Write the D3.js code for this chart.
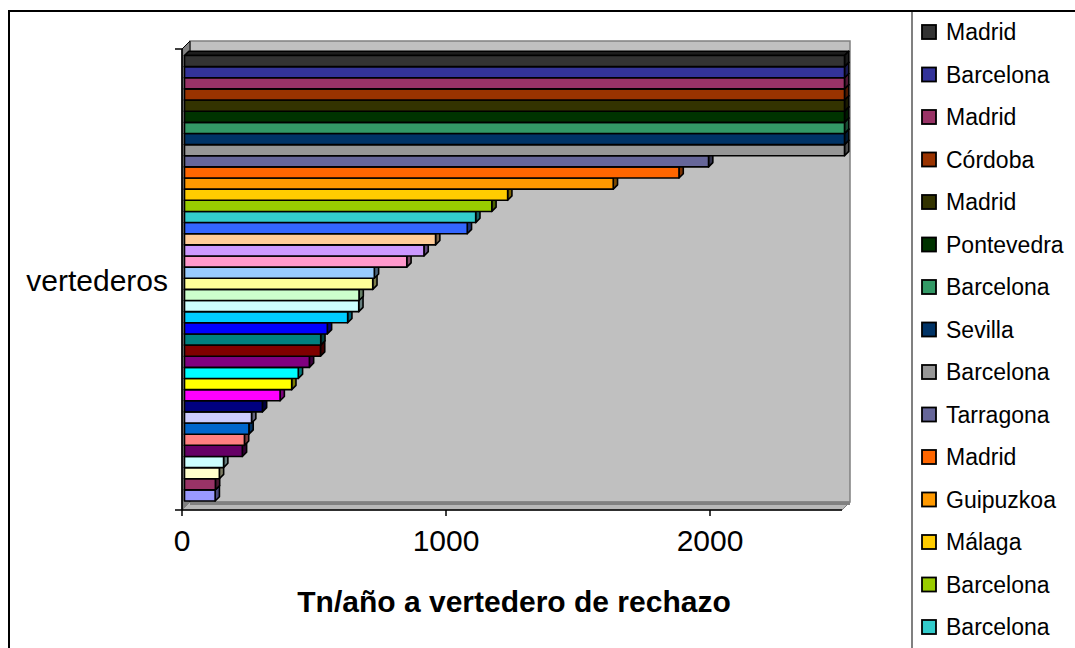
<!DOCTYPE html>
<html>
<head>
<meta charset="utf-8">
<script src="https://cdn.jsdelivr.net/npm/d3@7"></script>
<style>
  body { margin: 0; background: #fff; }
  svg { display: block; font-family: "Liberation Sans", Arial, sans-serif; }
</style>
</head>
<body>
<svg id="chart" width="1075" height="648"></svg>
<script>
// One category, forty series (listed top to bottom as they appear)
const category = "vertederos";
const seriesValues = [
  2500, 2500, 2500, 2500, 2500, 2500, 2500, 2500, 2500,
  1985, 1873, 1624, 1224, 1164, 1103, 1071, 951, 907, 842,
  719, 713, 661, 660, 618, 541, 516, 515, 473, 431, 406, 362,
  295, 254, 244, 227, 219, 148, 132, 117, 116
];
const seriesColors = [
  "#333333", "#333399", "#993366", "#993300", "#333300", "#003300", "#339966", "#003366", "#969696",
  "#666699", "#FF6600", "#FF9900", "#FFCC00", "#99CC00", "#33CCCC", "#3366FF", "#FFCC99", "#CC99FF", "#FF99CC",
  "#99CCFF", "#FFFF99", "#CCFFCC", "#CCFFFF", "#00CCFF", "#0000FF", "#008080", "#800000", "#800080", "#00FFFF", "#FFFF00", "#FF00FF",
  "#000080", "#CCCCFF", "#0066CC", "#FF8080", "#660066", "#CCFFFF", "#FFFFCC", "#993366", "#9999FF"
];
const legendNames = [
  "Madrid", "Barcelona", "Madrid", "Córdoba", "Madrid", "Pontevedra", "Barcelona",
  "Sevilla", "Barcelona", "Tarragona", "Madrid", "Guipuzkoa", "Málaga", "Barcelona", "Barcelona"
];
const valueTicks = [0, 1000, 2000];
const valueMax = 2500;
const axisTitle = "Tn/año a vertedero de rechazo";

const svg = d3.select("#chart");

// Front plane of the 3D box
const plot = { left: 182, right: 842, top: 49, bottom: 510 };
const WALL = 8;      // depth offset of the back wall
const FRONT = 2.5;   // depth offset of the bar front faces
const BACK = 6.8;    // depth offset of the bar back faces

const x = d3.scaleLinear().domain([0, valueMax]).range([plot.left, plot.right]);
const y = d3.scaleBand()
  .domain(d3.range(seriesValues.length))
  .range([58, 503.5])
  .paddingInner(0);

const shift = (px, py, d) => [px + d, py - d];
const poly = pts => "M" + pts.map(p => p.join(",")).join("L") + "Z";

// Outer chart frame
svg.append("rect")
  .attr("x", 9).attr("y", 11).attr("width", 1100).attr("height", 700)
  .attr("fill", "none").attr("stroke", "#000").attr("stroke-width", 2);

// Back wall
svg.append("rect")
  .attr("x", x(0) + WALL).attr("y", plot.top - WALL)
  .attr("width", x(valueMax) - x(0)).attr("height", plot.bottom - plot.top)
  .attr("fill", "#C0C0C0").attr("stroke", "#808080").attr("stroke-width", 1.5);

// Left (category) floor
svg.append("path")
  .attr("d", poly([[plot.left, plot.top], shift(plot.left, plot.top, WALL),
                   shift(plot.left, plot.bottom, WALL), [plot.left, plot.bottom]]))
  .attr("fill", "#808080").attr("stroke", "#000").attr("stroke-width", 1);

// Bottom side wall
svg.append("path")
  .attr("d", poly([[plot.left, plot.bottom], [x(valueMax), plot.bottom],
                   shift(x(valueMax), plot.bottom, WALL), shift(plot.left, plot.bottom, WALL)]))
  .attr("fill", "#B8B8B8").attr("stroke", "#808080").attr("stroke-width", 1);
svg.append("line")
  .attr("x1", plot.left + WALL).attr("x2", x(valueMax) + WALL)
  .attr("y1", plot.bottom - WALL + 1.5).attr("y2", plot.bottom - WALL + 1.5)
  .attr("stroke", "#808080").attr("stroke-width", 3);

// Bars, drawn bottom-up so each bar hides the top/side of the one below
const bars = svg.append("g").attr("stroke", "#000").attr("stroke-width", 1.6)
  .attr("stroke-linejoin", "round");
const order = d3.range(seriesValues.length).reverse();
order.forEach(i => {
  const v = seriesValues[i];
  const c = d3.color(seriesColors[i]);
  const x0 = x(0), x1 = x(v);
  const yt = y(i), yb = y(i) + y.bandwidth();
  const g = bars.append("g");
  // top face
  g.append("path")
    .attr("d", poly([shift(x0, yt, FRONT), shift(x1, yt, FRONT), shift(x1, yt, BACK), shift(x0, yt, BACK)]))
    .attr("fill", c.darker(1.6));
  // end face
  g.append("path")
    .attr("d", poly([shift(x1, yt, FRONT), shift(x1, yt, BACK), shift(x1, yb, BACK), shift(x1, yb, FRONT)]))
    .attr("fill", c.darker(2));
  // front face
  g.append("path")
    .attr("d", poly([shift(x0, yt, FRONT), shift(x1, yt, FRONT), shift(x1, yb, FRONT), shift(x0, yb, FRONT)]))
    .attr("fill", c);
});

// Axes
const axes = svg.append("g").attr("stroke", "#000").attr("stroke-width", 1.5);
axes.append("line").attr("x1", plot.left).attr("x2", plot.left)
  .attr("y1", plot.top).attr("y2", plot.bottom);
axes.append("line").attr("x1", plot.left - 7).attr("x2", x(valueMax))
  .attr("y1", plot.bottom).attr("y2", plot.bottom);
axes.append("line").attr("x1", plot.left - 7).attr("x2", plot.left)
  .attr("y1", plot.top).attr("y2", plot.top);
axes.selectAll("line.tick").data(valueTicks).enter().append("line")
  .attr("class", "tick")
  .attr("x1", d => x(d)).attr("x2", d => x(d))
  .attr("y1", plot.bottom).attr("y2", plot.bottom + 6);

svg.selectAll("text.vtick").data(valueTicks).enter().append("text")
  .attr("class", "vtick")
  .attr("x", d => x(d)).attr("y", 551)
  .attr("text-anchor", "middle")
  .attr("font-size", 30)
  .text(d => d);

svg.append("text")
  .attr("x", plot.left - 14).attr("y", 291)
  .attr("text-anchor", "end")
  .attr("font-size", 30)
  .text(category);

svg.append("text")
  .attr("x", 514).attr("y", 612)
  .attr("text-anchor", "middle")
  .attr("font-size", 30).attr("font-weight", "bold")
  .text(axisTitle);

// Legend
const legend = svg.append("g");
legend.append("line")
  .attr("x1", 912).attr("x2", 912).attr("y1", 12).attr("y2", 648)
  .attr("stroke", "#808080").attr("stroke-width", 2);
const ly = d3.scalePoint().domain(d3.range(legendNames.length)).range([32, 627]);
const items = legend.selectAll("g.item").data(legendNames).enter().append("g")
  .attr("class", "item")
  .attr("transform", (d, i) => `translate(0,${ly(i)})`);
items.append("rect")
  .attr("x", 922).attr("y", -7).attr("width", 14).attr("height", 14)
  .attr("fill", (d, i) => seriesColors[i])
  .attr("stroke", "#000").attr("stroke-width", 1.8);
items.append("text")
  .attr("x", 946).attr("y", 8)
  .attr("font-size", 23)
  .text(d => d);
</script>
</body>
</html>
